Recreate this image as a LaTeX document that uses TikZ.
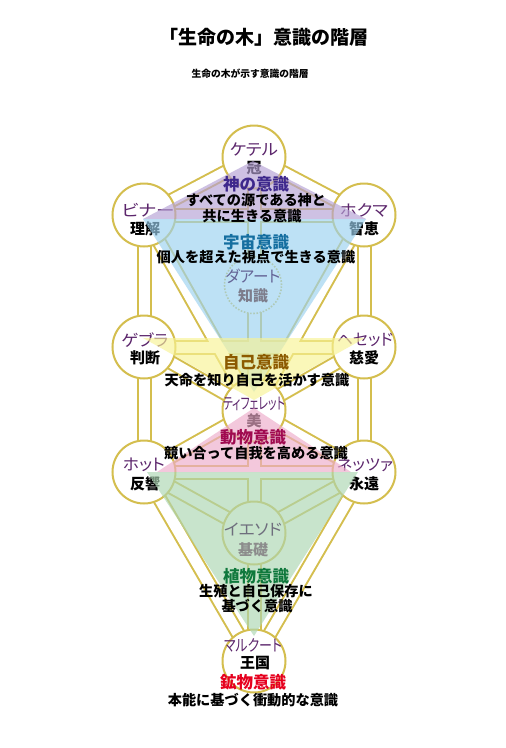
\documentclass[tikz,border=0pt]{standalone}
\usepackage{fontspec}
\usepackage{graphicx}
\newfontfamily\jp{Noto Sans CJK JP}
\newfontfamily\jpp[RawFeature=+palt]{Noto Sans CJK JP}
\newcommand\fitw[2]{\resizebox{#1pt}{\height}{#2}}
\definecolor{gold}{RGB}{212,190,78}
\definecolor{namec}{RGB}{92,38,108}
\definecolor{tpurple}{RGB}{180,160,212}
\definecolor{tblue}{RGB}{155,209,240}
\definecolor{tyellow}{RGB}{248,243,148}
\definecolor{tpink}{RGB}{237,171,202}
\definecolor{tgreen}{RGB}{171,214,178}
\definecolor{cgod}{RGB}{62,40,140}
\definecolor{ccos}{RGB}{20,110,160}
\definecolor{cself}{RGB}{140,90,0}
\definecolor{canim}{RGB}{160,10,80}
\definecolor{cplant}{RGB}{15,120,60}
\definecolor{cmin}{RGB}{230,0,30}
\pgfdeclarelayer{bg}
\pgfdeclarelayer{tri}
\pgfdeclarelayer{fg}
\pgfsetlayers{bg,main,tri,fg}
\tikzset{
 seph/.style={circle, draw=gold, line width=2pt, fill=white, minimum size=63pt, inner sep=0pt},
 daat/.style={circle, draw=gold, line width=1.6pt, dash pattern=on 1.6pt off 1.6pt, fill=white, minimum size=57pt, inner sep=0pt},
 pg/.style={draw=gold, line width=15pt},
 pw/.style={draw=white, line width=11pt},
 tri/.style={fill opacity=0.65},
 nm/.style={inner sep=0pt, text=namec, font=\jpp\fontsize{16}{18}\selectfont},
 mn/.style={inner sep=0pt, text=black, font=\jp\bfseries\fontsize{15}{17}\selectfont},
 lvl/.style={inner sep=0pt, font=\jp\bfseries\fontsize{16.5}{18}\selectfont},
 desc/.style={inner sep=0pt, text=black, font=\jp\bfseries\fontsize{14.2}{16}\selectfont},
}
\begin{document}
\begin{tikzpicture}[x=1pt,y=-1pt]
\useasboundingbox (0,0) rectangle (506,748);

% title
\node[inner sep=0pt, font=\jp\bfseries\fontsize{19}{21}\selectfont] (title) at (264,37.5) {「生命の木」意識の階層};
\node[inner sep=0pt, font=\jp\bfseries\fontsize{9.75}{11}\selectfont] (subtitle) at (250,73.5) {生命の木が示す意識の階層};

% sephirot
\node[seph] (K) at (254,157) {};
\node[seph] (Bi) at (144,215) {};
\node[seph] (Ch) at (364,215) {};
\node[daat] (Da) at (253,285) {};
\node[seph] (Ge) at (144,347) {};
\node[seph] (He) at (364,347) {};
\node[seph] (Ti) at (254,410) {};
\node[seph] (Ho) at (144,472) {};
\node[seph] (Ne) at (364,472) {};
\node[seph] (Ye) at (254,533) {};
\node[seph] (Ma) at (254,661) {};

% sephira labels
\node[nm] (Kn) at (254,150) {\fitw{48}{ケテル}};
\node[mn] (Km) at (254,168) {冠};
\node[nm] (Bin) at (148,210) {\fitw{53}{ビナー}};
\node[mn] (Bim) at (145,229) {理解};
\node[nm] (Chn) at (364,210) {\fitw{48}{ホクマ}};
\node[mn] (Chm) at (364,229) {智恵};
\node[nm] (Gen) at (145,340) {\fitw{47}{ゲブラ}};
\node[mn] (Gem) at (145,358) {判断};
\node[nm] (Hen) at (365,340) {\fitw{56}{ヘセッド}};
\node[mn] (Hem) at (364,358) {慈愛};
\node[nm] (Tin) at (254,404) {\fitw{62}{ティフェレット}};
\node[mn] (Tim) at (254,421) {美};
\node[nm] (Hon) at (144,465) {\fitw{42}{ホット}};
\node[mn] (Hom) at (145,484) {反響};
\node[nm] (Nen) at (365,465) {\fitw{56}{ネッツァ}};
\node[mn] (Nem) at (364,484) {永遠};
\node[nm] (Man) at (253,645) {\fitw{58}{マルクート}};
\node[mn] (Mam) at (255,663) {王国};

% background and paths
\begin{pgfonlayer}{bg}
\fill[white] (0,0) rectangle (506,748);
\foreach \a/\b in {K/Ch,K/Bi,K/Ti,Ch/Bi,Ch/Ti,Ch/He,Bi/Ti,Bi/Ge,He/Ge,He/Ti,He/Ne,Ge/Ti,Ge/Ho,Ti/Ne,Ti/Ye,Ti/Ho,Ne/Ho,Ne/Ye,Ne/Ma,Ho/Ye,Ho/Ma,Ye/Ma}
  \draw[pg] (\a.center) -- (\b.center);
\foreach \a/\b in {K/Ch,K/Bi,K/Ti,Ch/Bi,Ch/Ti,Ch/He,Bi/Ti,Bi/Ge,He/Ge,He/Ti,He/Ne,Ge/Ti,Ge/Ho,Ti/Ne,Ti/Ye,Ti/Ho,Ne/Ho,Ne/Ye,Ne/Ma,Ho/Ye,Ho/Ma,Ye/Ma}
  \draw[pw] (\a.center) -- (\b.center);
\end{pgfonlayer}

% triangles
\begin{pgfonlayer}{tri}
\fill[tri, tpurple] (253,161) -- (143,219) -- (366,219) -- cycle;
\fill[tri, tblue] (143,219) -- (366,219) -- (254,392) -- cycle;
\fill[tri, tyellow] (143,338) -- (365,338) -- (254,400) -- cycle;
\fill[tri, tpink] (254,408) -- (157,472) -- (351,472) -- cycle;
\fill[tri, tgreen] (147,472) -- (358,472) -- (254,636) -- cycle;
\end{pgfonlayer}

% texts on top
\begin{pgfonlayer}{fg}
\node[nm, text={rgb,255:red,100;green,100;blue,150}] (Dan) at (253,276) {\fitw{55}{ダアート}};
\node[mn, text={rgb,255:red,125;green,125;blue,140}] (Dam) at (253,296) {知識};
\node[nm, text={rgb,255:red,110;green,110;blue,125}] (Yen) at (253,530) {\fitw{58}{イエソド}};
\node[mn, text={rgb,255:red,140;green,140;blue,140}] (Yem) at (253,550) {基礎};

\node[lvl, text=cgod] (L1) at (256,184) {神の意識};
\node[desc] (D1a) at (256,200) {すべての源である神と};
\node[desc] (D1b) at (252,216.5) {共に生きる意識};
\node[lvl, text=ccos] (L2) at (256,242) {宇宙意識};
\node[desc] (D2) at (256,257) {個人を超えた視点で生きる意識};
\node[lvl, text=cself] (L3) at (256,362) {自己意識};
\node[desc] (D3) at (257,380) {天命を知り自己を活かす意識};
\node[lvl, text=canim] (L4) at (253,437) {動物意識};
\node[desc] (D4) at (256,453.5) {競い合って自我を高める意識};
\node[lvl, text=cplant] (L5) at (256,576) {植物意識};
\node[desc] (D5a) at (256,591) {生殖と自己保存に};
\node[desc] (D5b) at (257,606.5) {基づく意識};
\node[lvl, text=cmin] (L6) at (253,682) {鉱物意識};
\node[desc] (D6) at (253,700) {本能に基づく衝動的な意識};
\end{pgfonlayer}
\end{tikzpicture}
\end{document}
